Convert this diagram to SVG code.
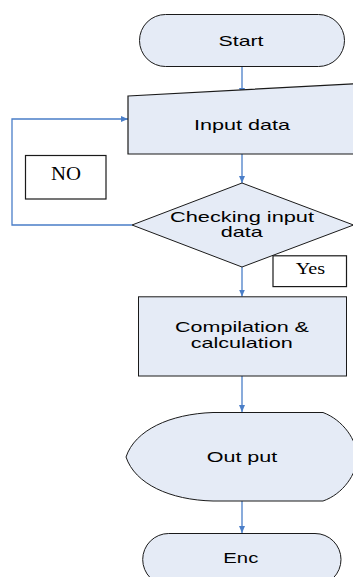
<svg xmlns="http://www.w3.org/2000/svg" width="353" height="577" viewBox="0 0 353 577">
  <style>
    .shape { fill: #e5ebf6; stroke: #1a1a1a; stroke-width: 1; }
    .label { fill: #000; stroke: none; stroke-width: 0; }
    .sans { font-family: "Liberation Sans", Arial, sans-serif; font-size: 15px; }
    .serif { font-family: "Liberation Serif", "Times New Roman", serif; }
    .note { fill: #fff; stroke: #1a1a1a; stroke-width: 1.2; }
    .conn { fill: none; stroke: #4a7ec8; stroke-width: 1.3; }
  </style>
  <defs>
    <marker id="arrow" markerWidth="8" markerHeight="8" refX="7" refY="4" orient="auto" markerUnits="userSpaceOnUse">
      <path d="M0,1 L7,4 L0,7 Z" fill="#4a7ec8"/>
    </marker>
  </defs>

  <rect width="353" height="577" fill="#fff"/>

  <!-- connectors -->
  <g id="connectors">
    <line class="conn" x1="242" y1="67" x2="242" y2="95" marker-end="url(#arrow)"/>
    <line class="conn" x1="242" y1="154" x2="242" y2="183" marker-end="url(#arrow)"/>
    <polyline class="conn" points="132,225 12,225 12,119 128,119" marker-end="url(#arrow)"/>
    <line class="conn" x1="242" y1="267" x2="242" y2="296.5" marker-end="url(#arrow)"/>
    <line class="conn" x1="242" y1="376" x2="242" y2="412" marker-end="url(#arrow)"/>
    <line class="conn" x1="242" y1="501" x2="242" y2="533" marker-end="url(#arrow)"/>
  </g>

  <!-- start terminator -->
  <g id="start">
    <rect class="shape" x="139.5" y="14.5" width="205" height="52" rx="26" ry="26"/>
    <text class="label sans" x="241" y="45.5" text-anchor="middle" textLength="45" lengthAdjust="spacingAndGlyphs">Start</text>
  </g>

  <!-- manual input -->
  <g id="input">
    <polygon class="shape" points="128,96 360,83.5 360,154 128,154" style="stroke-width:1.2"/>
    <text class="label sans" x="242" y="129.5" text-anchor="middle" textLength="96" lengthAdjust="spacingAndGlyphs">Input data</text>
  </g>

  <!-- NO label -->
  <g id="no-label">
    <rect class="note" x="25.5" y="155.5" width="80.5" height="43.5"/>
    <text class="label serif" x="66" y="180" font-size="19" text-anchor="middle" textLength="30" lengthAdjust="spacingAndGlyphs">NO</text>
  </g>

  <!-- decision -->
  <g id="check">
    <polygon class="shape" points="242,183 353.5,225 242,267 132,225"/>
    <text class="label sans" x="242" y="221.5" text-anchor="middle" textLength="144" lengthAdjust="spacingAndGlyphs">Checking input</text>
    <text class="label sans" x="241.7" y="237" text-anchor="middle" textLength="42" lengthAdjust="spacingAndGlyphs">data</text>
  </g>

  <!-- Yes label -->
  <g id="yes-label">
    <rect class="note" x="273" y="255.8" width="73.5" height="30.8"/>
    <text class="label serif" x="310.4" y="273.5" font-size="16" text-anchor="middle" textLength="29.3" lengthAdjust="spacingAndGlyphs">Yes</text>
  </g>

  <!-- process -->
  <g id="compile">
    <rect class="shape" x="138.5" y="296.8" width="208" height="79.2"/>
    <text class="label sans" x="242" y="332" text-anchor="middle" textLength="134" lengthAdjust="spacingAndGlyphs">Compilation &amp;</text>
    <text class="label sans" x="241.7" y="348" text-anchor="middle" textLength="102" lengthAdjust="spacingAndGlyphs">calculation</text>
  </g>

  <!-- display -->
  <g id="output">
    <path class="shape" d="M213,412.5 L323,412.5 C343,420 357,440 357,457 C357,474 343,494 323,501 L213,501 C170,500 135,484 126,457 C135,430 170,414 213,412.5 Z"/>
    <text class="label sans" x="242" y="462" text-anchor="middle" textLength="70.7" lengthAdjust="spacingAndGlyphs">Out put</text>
  </g>

  <!-- end terminator -->
  <g id="end">
    <rect class="shape" x="142.7" y="533.5" width="198.3" height="52" rx="26" ry="26"/>
    <text class="label sans" x="240.8" y="563" text-anchor="middle" textLength="35" lengthAdjust="spacingAndGlyphs">Enc</text>
  </g>
</svg>
